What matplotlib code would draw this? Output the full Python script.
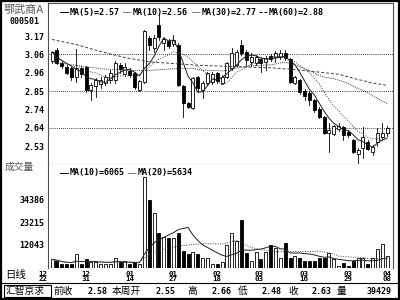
import numpy as np
import pandas as pd
import matplotlib
matplotlib.use("Agg")
import matplotlib.pyplot as plt
from matplotlib.patches import Rectangle
from matplotlib.lines import Line2D
from matplotlib.transforms import blended_transform_factory

# daily candles, 70 trading days
opens = [3.025, 3.089, 3.015, 2.990, 2.984, 2.932, 2.984, 2.990, 2.856, 2.879,
         2.891, 2.897, 2.914, 2.914, 3.001, 2.949, 2.967, 2.955, 2.856, 2.903,
         3.158, 3.100, 3.234, 3.129, 3.141, 3.123, 3.118, 2.879, 2.780, 2.751,
         2.932, 2.856, 2.897, 2.903, 2.955, 2.897, 2.932, 2.984, 3.001, 3.118,
         3.077, 3.019, 3.013, 3.036, 3.019, 3.054, 3.048, 3.048, 3.071, 3.036,
         2.897, 2.914, 2.850, 2.838, 2.798, 2.746, 2.699, 2.606, 2.600, 2.629,
         2.641, 2.612, 2.565, 2.484, 2.519, 2.554, 2.496, 2.554, 2.583, 2.606]
highs = [3.083, 3.100, 3.025, 3.001, 2.990, 3.094, 2.996, 2.996, 2.897, 2.926,
         2.932, 2.943, 2.972, 3.025, 3.013, 3.013, 2.984, 2.961, 2.914, 3.205,
         3.170, 3.176, 3.292, 3.164, 3.153, 3.176, 3.129, 2.885, 2.786, 2.932,
         2.937, 2.908, 2.961, 2.961, 2.961, 2.943, 3.019, 3.100, 3.089, 3.147,
         3.089, 3.071, 3.060, 3.048, 3.054, 3.065, 3.083, 3.089, 3.089, 3.042,
         2.937, 2.920, 2.862, 2.850, 2.804, 2.757, 2.705, 2.664, 2.653, 2.664,
         2.647, 2.623, 2.571, 2.519, 2.641, 2.565, 2.536, 2.635, 2.664, 2.647]
lows = [3.013, 3.007, 2.984, 2.949, 2.914, 2.903, 2.932, 2.844, 2.798, 2.815,
        2.868, 2.885, 2.897, 2.897, 2.955, 2.937, 2.932, 2.862, 2.850, 2.897,
        3.089, 3.077, 3.147, 3.089, 3.100, 3.112, 2.879, 2.699, 2.751, 2.746,
        2.844, 2.810, 2.885, 2.891, 2.897, 2.891, 2.926, 2.972, 2.996, 3.060,
        3.001, 2.996, 3.001, 2.961, 2.972, 3.025, 3.019, 3.036, 3.030, 2.897,
        2.891, 2.833, 2.798, 2.769, 2.728, 2.693, 2.600, 2.496, 2.594, 2.618,
        2.565, 2.583, 2.490, 2.432, 2.461, 2.507, 2.478, 2.531, 2.565, 2.589]
closes = [3.077, 3.013, 2.996, 2.955, 2.932, 2.984, 2.949, 2.856, 2.885, 2.914,
          2.914, 2.932, 2.955, 3.013, 2.978, 2.990, 2.943, 2.873, 2.908, 3.199,
          3.118, 3.158, 3.164, 3.153, 3.112, 3.147, 2.885, 2.780, 2.757, 2.926,
          2.868, 2.897, 2.955, 2.949, 2.908, 2.932, 3.013, 3.071, 3.077, 3.071,
          3.030, 3.048, 3.048, 3.013, 3.042, 3.036, 3.071, 3.071, 3.042, 2.903,
          2.932, 2.844, 2.821, 2.798, 2.740, 2.699, 2.606, 2.623, 2.647, 2.647,
          2.594, 2.594, 2.496, 2.507, 2.583, 2.513, 2.525, 2.606, 2.606, 2.635]
volumes = [4900, 4100, 2500, 2500, 2500, 7500, 2500, 4900, 3500, 3500,
           2500, 2500, 2500, 5400, 3500, 4000, 2500, 3500, 2500, 45560,
           34300, 27900, 18100, 16100, 15500, 15500, 18000, 9100, 7400, 8400,
           7400, 5400, 5400, 2500, 2500, 3600, 12000, 17800, 14100, 24400,
           7900, 4100, 8600, 5300, 8600, 12000, 10600, 5800, 13100, 5400,
           6600, 5400, 4100, 4100, 4100, 5400, 5400, 7900, 4900, 1700,
           2900, 1700, 4100, 5400, 5400, 2500, 5400, 10200, 12400, 6600]

# long averages before enough days exist on screen
ma30_head_x = [0, 5, 10, 15, 20, 25]
ma30_head_y = [3.02, 3.00, 2.98, 2.97, 2.97, 2.98]
ma60_head_x = [0, 5, 10, 15, 20, 25, 30, 35, 40, 45, 50, 55]
ma60_head_y = [3.15, 3.12, 3.08, 3.045, 3.02, 3.01, 3.00, 2.995, 2.99, 2.985, 2.975, 2.96]

price_ticks = [3.17, 3.063, 2.957, 2.85, 2.743, 2.637, 2.53]
price_labels = ['3.17', '3.06', '2.96', '2.85', '2.74', '2.64', '2.53']
grid_prices = [3.063, 2.85, 2.637]
vol_ticks = [34386, 23215, 12043]
date_pos = [-1.9, 7, 16.1, 25, 33.9, 42.6, 51.9, 61, 69]
date_labels = ['12\n22', '12\n31', '01\n14', '01\n27', '02\n18',
               '03\n03', '03\n16', '03\n29', '04\n08']

status_items = [('前收', 53), ('2.58', 87), ('本周开', 112), ('2.55', 156),
                ('高', 187), ('2.66', 212), ('低', 238), ('2.48', 262),
                ('收', 288), ('2.63', 312), ('量', 337), ('39429', 367)]

MONO = 'DejaVu Sans Mono'
CJK = ['Noto Sans CJK SC', 'DejaVu Sans']


def fp(x, y):
    """ pixel position (400x300, origin top-left) -> figure fraction """
    return x / 400, 1 - y / 300


def long_ma(n, head_x, head_y):
    ma = pd.Series(closes).rolling(n).mean()
    xs = list(head_x) + list(range(n - 1, len(closes)))
    ys = list(head_y) + list(ma.iloc[n - 1:])
    return xs, ys


fig = plt.figure(figsize=(4, 3), dpi=100)
fig.patch.set_facecolor('white')

ax = fig.add_axes([48 / 400, 1 - 165 / 300, 345 / 400, 162 / 300])
axv = fig.add_axes([48 / 400, 1 - 267.5 / 300, 345 / 400, 102.5 / 300])

n = len(closes)
idx = np.arange(n)
up = np.array(closes) >= np.array(opens)
w = 0.62

# candles
for i in idx:
    ax.plot([i, i], [lows[i], highs[i]], color='black', lw=0.6, zorder=3)
    lo = min(opens[i], closes[i])
    h = max(abs(closes[i] - opens[i]), 0.002)
    fc = 'white' if up[i] else 'black'
    ax.add_patch(Rectangle((i - w / 2, lo), w, h, facecolor=fc,
                           edgecolor='black', lw=0.6, zorder=4))

# moving averages
ma5 = pd.Series(closes).rolling(5, min_periods=1).mean()
ma10 = pd.Series(closes).rolling(10, min_periods=1).mean()
ax.plot(idx, ma5, color='#202020', lw=0.7, zorder=5)
ax.plot(idx, ma10, color='#404040', lw=0.7, ls=(0, (1, 1.5)), zorder=5)
x30, y30 = long_ma(30, ma30_head_x, ma30_head_y)
ax.plot(x30, y30, color='#404040', lw=0.7, ls=(0, (1, 1)), zorder=5)
x60, y60 = long_ma(60, ma60_head_x, ma60_head_y)
ax.plot(x60, y60, color='#404040', lw=0.7, ls=(0, (3, 2)), zorder=5)

for g in grid_prices:
    ax.axhline(g, color='black', lw=0.6, ls=(0, (1, 1.5)), zorder=1)

ax.set_xlim(-0.83, 70.2)
ax.set_ylim(2.42, 3.362)
ax.set_xticks([])
ax.set_yticks(price_ticks)
ax.set_yticklabels(price_labels, fontfamily=MONO, fontweight='bold', fontsize=6)
ax.tick_params(axis='y', length=0, pad=2.5)

# volume bars
for i in idx:
    fc = 'white' if up[i] else 'black'
    axv.add_patch(Rectangle((i - w / 2, 0), w, volumes[i], facecolor=fc,
                            edgecolor='black', lw=0.6, zorder=3))
vma10 = pd.Series(volumes).rolling(10, min_periods=1).mean()
vma20 = pd.Series(volumes).rolling(20, min_periods=1).mean()
axv.plot(idx, vma10, color='#202020', lw=0.7, zorder=5)
axv.plot(idx, vma20, color='#404040', lw=0.7, ls=(0, (1, 1.5)), zorder=5)
axv.set_xlim(-0.83, 70.2)
axv.set_ylim(871, 51762)
axv.set_xticks([])
axv.set_yticks(vol_ticks)
axv.set_yticklabels([str(v) for v in vol_ticks], fontfamily=MONO,
                    fontweight='bold', fontsize=6)
axv.tick_params(axis='y', length=0, pad=2.5)

for a in (ax, axv):
    for s in a.spines.values():
        s.set_linewidth(0.8)
        s.set_color('#505050')
axv.spines['top'].set_visible(False)
axv.spines['bottom'].set_visible(False)

# date labels: month above, day below
trans = blended_transform_factory(axv.transData, fig.transFigure)
for p, lab in zip(date_pos, date_labels):
    axv.text(p, fp(0, 276.5)[1], lab, transform=trans, ha='center', va='center',
             fontfamily=MONO, fontweight='bold', fontsize=5.3, linespacing=0.95,
             clip_on=False)

# header texts
fig.text(*fp(4, 10), '鄂武商A', family=CJK, fontsize=8, color='#555555', va='center')
fig.text(*fp(10, 22), '000501', family=MONO, fontweight='bold', fontsize=6, va='center')
fig.text(*fp(5, 167), '成交量', family=CJK, fontsize=7, color='#555555', va='center')
fig.text(*fp(5, 275), '日线', family=CJK, fontsize=7.5, va='center')


def legend_item(x, y, style, label):
    x0, yy = fp(x, y)
    x1, _ = fp(x + 8, y)
    fig.add_artist(Line2D([x0, x1], [yy, yy], color='black', lw=0.7, ls=style,
                          transform=fig.transFigure))
    fig.text(*fp(x + 10, y), label, family=MONO, fontweight='bold',
             fontsize=6, va='center')


legend_item(60, 12, '-', 'MA(5)=2.57')
legend_item(123, 12, (0, (1, 1)), 'MA(10)=2.56')
legend_item(192, 12, (0, (1, 1)), 'MA(30)=2.77')
legend_item(259, 12, (0, (3, 2)), 'MA(60)=2.88')
legend_item(60, 173, '-', 'MA(10)=6065')
legend_item(128, 173, (0, (1, 1)), 'MA(20)=5634')

# status bar
fig.add_artist(Line2D([0, 1], [fp(0, 283)[1]] * 2, color='black', lw=0.8,
                      transform=fig.transFigure))
bx0, by0 = fp(4, 297)
bx1, by1 = fp(51, 285)
fig.add_artist(Rectangle((bx0, by0), bx1 - bx0, by1 - by0, fill=False,
                         ec='black', lw=0.8, transform=fig.transFigure))
fig.text(*fp(6, 291), '汇智京求', family=CJK, fontsize=7, va='center')
for txt, x in status_items:
    if txt[0].isdigit():
        fig.text(*fp(x, 291), txt, family=MONO, fontweight='bold', fontsize=6, va='center')
    else:
        fig.text(*fp(x, 291), txt, family=CJK, fontsize=7, va='center')

# outer frame
fig.add_artist(Rectangle((0.002, 0.003), 0.996, 0.994, fill=False, ec='black',
                         lw=1.6, transform=fig.transFigure))

fig.savefig('out.png', dpi=100)
